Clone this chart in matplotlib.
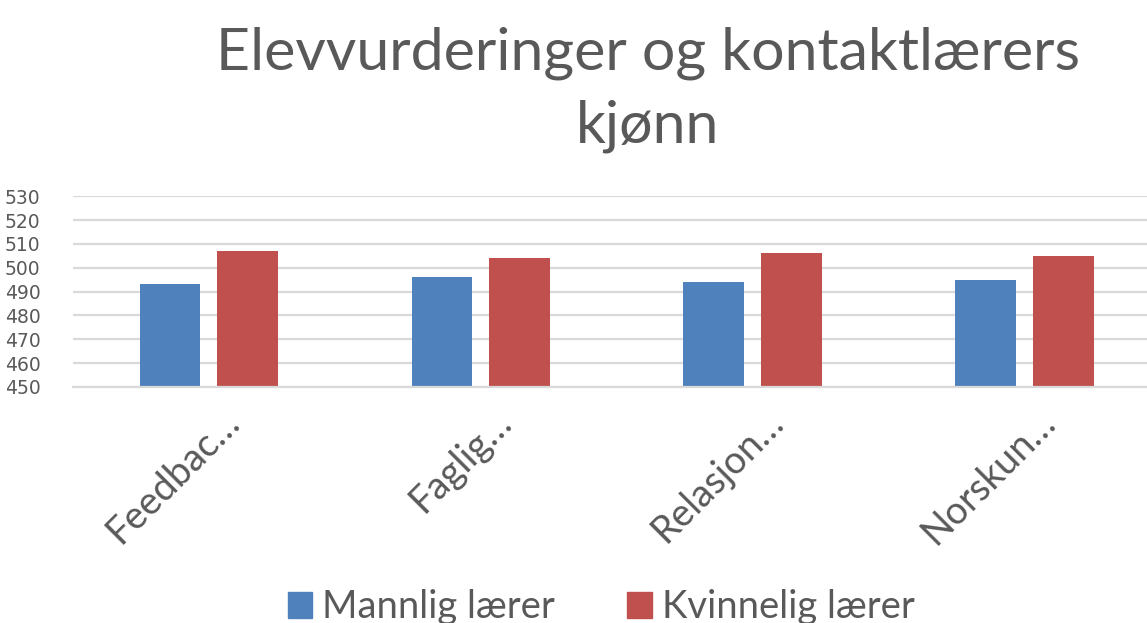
import numpy as np
import matplotlib.pyplot as plt
import matplotlib.transforms as mtransforms
from matplotlib.patches import Patch

# Chart data
categories = ["Feedbac…", "Faglig…", "Relasjon…", "Norskun…"]
mannlig = [493, 496, 494, 495]
kvinnelig = [507, 504, 506, 505]
series_names = ["Mannlig lærer", "Kvinnelig lærer"]
y_ticks = [450, 460, 470, 480, 490, 500, 510, 520, 530]

BLUE = "#4F81BD"
RED = "#C0504D"
TEXT = "#595959"
GRID = "#D9D9D9"

fig = plt.figure(figsize=(11.47, 6.23), dpi=100)
ax = fig.add_axes([0.0636, 0.379, 0.9484, 0.306])

x = np.arange(len(categories))
width = 0.224
ax.bar(x - 0.143, np.array(mannlig) - 450, width, bottom=450, color=BLUE)
ax.bar(x + 0.143, np.array(kvinnelig) - 450, width, bottom=450, color=RED)

ax.set_xlim(-0.5, len(categories) - 0.5)
ax.set_ylim(450, 530)
ax.set_yticks(y_ticks)
ax.set_yticklabels([str(t) for t in y_ticks], fontsize=13.5, color=TEXT,
                   family=["Liberation Sans Narrow", "DejaVu Sans"])
ax.yaxis.grid(True, color=GRID, linewidth=1.6)
ax.set_axisbelow(True)
ax.tick_params(axis="y", length=0, pad=49)
for lbl in ax.get_yticklabels():
    lbl.set_horizontalalignment("left")

ax.set_xticks(x)
ax.set_xticklabels(categories, rotation=45, ha="right", rotation_mode="anchor",
                   fontsize=27.5, color=TEXT, family="Lato")
ax.tick_params(axis="x", length=0, pad=12)
shift = mtransforms.ScaledTranslation(12 / 100, 0, fig.dpi_scale_trans)
for lbl in ax.get_xticklabels():
    lbl.set_transform(lbl.get_transform() + shift)

for side in ["top", "right", "left"]:
    ax.spines[side].set_visible(False)
ax.spines["bottom"].set_color(GRID)
ax.spines["bottom"].set_linewidth(1.6)

fig.text(0.565, 0.856, "Elevvurderinger og kontaktlærers\nkjønn", ha="center", va="center",
         fontsize=42.5, color=TEXT, family="Lato", linespacing=1.45)

handles = [Patch(color=BLUE), Patch(color=RED)]
fig.legend(handles, series_names, loc="center", bbox_to_anchor=(0.524, 0.025), ncol=2,
           frameon=False, labelcolor=TEXT, prop={"family": "Lato", "size": 27.5},
           handlelength=0.65, handleheight=0.65, handletextpad=0.25, columnspacing=1.9)

fig.savefig("out.png", dpi=100)
